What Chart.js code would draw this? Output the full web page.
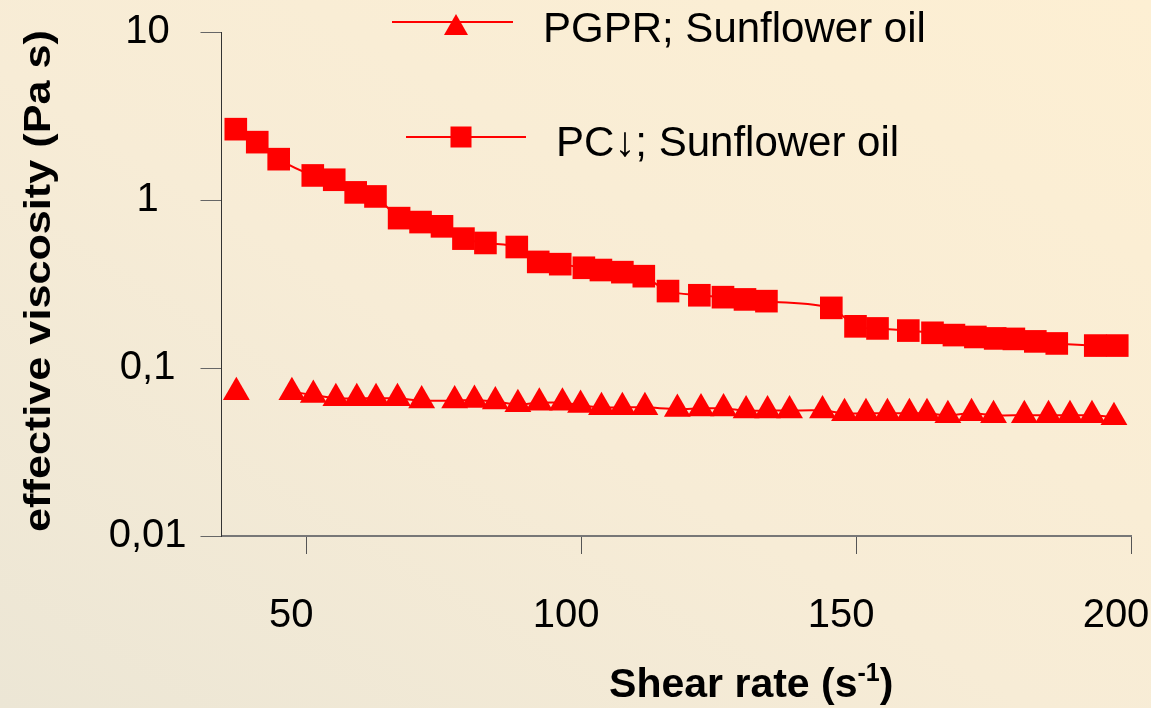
<!DOCTYPE html>
<html>
<head>
<meta charset="utf-8">
<script src="https://cdn.jsdelivr.net/npm/chart.js@4/dist/chart.umd.min.js"></script>
<style>
  html, body { margin: 0; padding: 0; }
  body {
    width: 1151px; height: 708px; overflow: hidden;
    background: linear-gradient(to top right, #ece6d5 0%, #f7ecd6 45%, #fdefd3 100%);
  }
  #chart { display: block; }
</style>
</head>
<body>
<canvas id="chart" width="1151" height="708"></canvas>
<script>
// shear rate (1/s) and effective viscosity (Pa s)
const pcShear = [37.2, 41.1, 45.0, 51.2, 55.1, 59.0, 62.6, 66.9, 70.8, 74.7, 78.6, 82.6, 88.3, 92.2, 96.2, 100.5, 103.6, 107.5, 111.4, 115.8, 121.5, 125.8, 129.8, 133.7, 145.5, 149.9, 153.9, 159.5, 163.9, 167.8, 171.7, 175.3, 178.7, 182.6, 186.5, 193.5, 197.5];
const pcVisc = [2.64, 2.21, 1.75, 1.40, 1.32, 1.11, 1.05, 0.78, 0.739, 0.697, 0.589, 0.555, 0.525, 0.428, 0.415, 0.395, 0.383, 0.372, 0.352, 0.287, 0.271, 0.264, 0.256, 0.250, 0.228, 0.177, 0.172, 0.167, 0.162, 0.157, 0.153, 0.150, 0.149, 0.144, 0.140, 0.136, 0.136];

const pgprShear = [37.3, 47.4, 51.3, 55.4, 59.2, 62.7, 66.6, 71.0, 77.0, 80.6, 84.4, 88.5, 92.4, 96.6, 99.9, 103.7, 107.5, 111.6, 117.5, 121.8, 125.9, 130.0, 133.9, 137.9, 143.9, 147.9, 151.8, 155.7, 159.7, 162.9, 166.7, 171.0, 175.0, 180.6, 185.0, 188.9, 192.9, 196.9];
const pgprVisc = [0.0717, 0.0717, 0.0691, 0.0660, 0.0660, 0.0660, 0.0660, 0.0640, 0.0640, 0.0645, 0.0631, 0.0608, 0.0622, 0.0622, 0.0602, 0.0583, 0.0583, 0.0583, 0.0570, 0.0575, 0.0575, 0.0558, 0.0558, 0.0558, 0.0558, 0.0537, 0.0537, 0.0537, 0.0537, 0.0537, 0.0523, 0.0537, 0.0523, 0.0523, 0.0523, 0.0523, 0.0523, 0.0509];

const seriesLabels = ['PGPR; Sunflower oil', 'PC\u2193; Sunflower oil'];
const xTicks = [50, 100, 150, 200];
const yTicks = [0.01, 0.1, 1, 10];
const yTickLabels = ['0,01', '0,1', '1', '10'];
const xTitle = ['Shear rate (s', '-1', ')'];
const yTitle = 'effective viscosity (Pa s)';

const RED = '#ff0000';
const FONT = 'Arial, "Liberation Sans", sans-serif';

function toPoints(xs, ys) {
  return xs.map((x, i) => ({ x: x, y: ys[i] }));
}

// axis titles and the in-plot legend
const extrasPlugin = {
  id: 'extras',
  afterDraw(chart) {
    const ctx = chart.ctx;
    const area = chart.chartArea;
    ctx.save();
    ctx.fillStyle = '#000';

    // x title with superscript
    ctx.font = 'bold 41px ' + FONT;
    const w1 = ctx.measureText(xTitle[0]).width;
    const w3 = ctx.measureText(xTitle[2]).width;
    ctx.font = 'bold 25px ' + FONT;
    const w2 = ctx.measureText(xTitle[1]).width;
    let x = (area.left + area.right) / 2 + 75 - (w1 + w2 + w3) / 2;
    const base = 697;
    ctx.textBaseline = 'alphabetic';
    ctx.textAlign = 'left';
    ctx.font = 'bold 41px ' + FONT;
    ctx.fillText(xTitle[0], x, base);
    x += w1;
    ctx.font = 'bold 25px ' + FONT;
    ctx.fillText(xTitle[1], x, base - 16);
    x += w2;
    ctx.font = 'bold 41px ' + FONT;
    ctx.fillText(xTitle[2], x, base);

    // y title, rotated
    ctx.save();
    ctx.translate(40, (area.top + area.bottom) / 2 - 3);
    ctx.rotate(-Math.PI / 2);
    ctx.scale(1.2, 1);
    ctx.font = 'bold 36px ' + FONT;
    ctx.textAlign = 'center';
    ctx.textBaseline = 'middle';
    ctx.fillText(yTitle, 0, 0);
    ctx.restore();

    // legend
    ctx.strokeStyle = RED;
    ctx.fillStyle = RED;
    ctx.lineWidth = 2;
    ctx.beginPath();
    ctx.moveTo(392, 22); ctx.lineTo(513, 22);
    ctx.moveTo(406, 137); ctx.lineTo(526, 137);
    ctx.stroke();

    ctx.beginPath();
    ctx.moveTo(456, 14);
    ctx.lineTo(468, 35);
    ctx.lineTo(444, 35);
    ctx.closePath();
    ctx.fill();
    ctx.fillRect(450.5, 126.5, 21, 21);

    ctx.fillStyle = '#000';
    ctx.font = '42px ' + FONT;
    ctx.textAlign = 'left';
    ctx.textBaseline = 'middle';
    ctx.fillText(seriesLabels[0], 543, 30);
    ctx.fillText(seriesLabels[1], 556, 144);
    ctx.restore();
  }
};

const chart = new Chart(document.getElementById('chart'), {
  type: 'line',
  data: {
    datasets: [
      {
        label: seriesLabels[0],
        data: toPoints(pgprShear, pgprVisc),
        borderColor: RED,
        backgroundColor: RED,
        borderWidth: 2,
        pointStyle: 'triangle',
        pointRadius: 15.5,
        pointBorderWidth: 0,
        pointBackgroundColor: RED,
        tension: 0.3,
        segment: {
          borderColor: c => c.p0DataIndex === 0 ? 'rgba(0,0,0,0)' : undefined
        }
      },
      {
        label: seriesLabels[1],
        data: toPoints(pcShear, pcVisc),
        borderColor: RED,
        backgroundColor: RED,
        borderWidth: 2,
        pointStyle: 'rect',
        pointRadius: 16,
        pointBorderWidth: 0,
        pointBackgroundColor: RED,
        tension: 0.3
      }
    ]
  },
  options: {
    responsive: false,
    animation: false,
    clip: false,
    layout: { padding: { top: 32, right: 20, left: 0, bottom: 0 } },
    plugins: {
      legend: { display: false },
      tooltip: { enabled: false }
    },
    scales: {
      x: {
        type: 'linear',
        min: 34.6,
        max: 200,
        afterBuildTicks: scale => { scale.ticks = xTicks.map(v => ({ value: v })); },
        afterFit: scale => {
          scale.height = 172;
          scale.paddingLeft = 0;
          scale.paddingRight = 0;
        },
        border: { display: true, color: '#777', width: 2 },
        grid: { drawOnChartArea: false, drawTicks: true, tickLength: 18, color: '#555', tickWidth: 1 },
        ticks: {
          font: { family: FONT, size: 40 },
          color: '#000',
          padding: 38,
          labelOffset: -15,
          maxRotation: 0,
          autoSkip: false
        }
      },
      y: {
        type: 'logarithmic',
        min: 0.01,
        max: 10,
        afterBuildTicks: scale => { scale.ticks = yTicks.map(v => ({ value: v })); },
        afterFit: scale => {
          scale.width = 221.5;
          scale.paddingTop = 0;
          scale.paddingBottom = 0;
        },
        border: { display: true, color: '#333', width: 1 },
        grid: { drawOnChartArea: false, drawTicks: true, tickLength: 21, color: '#666', tickWidth: 1 },
        ticks: {
          font: { family: FONT, size: 40 },
          color: '#000',
          padding: 14,
          crossAlign: 'center',
          autoSkip: false,
          callback: (value) => {
            const i = yTicks.findIndex(t => Math.abs(t - value) < t * 1e-6);
            return i >= 0 ? yTickLabels[i] : '';
          }
        }
      }
    }
  },
  plugins: [extrasPlugin]
});
</script>
</body>
</html>
